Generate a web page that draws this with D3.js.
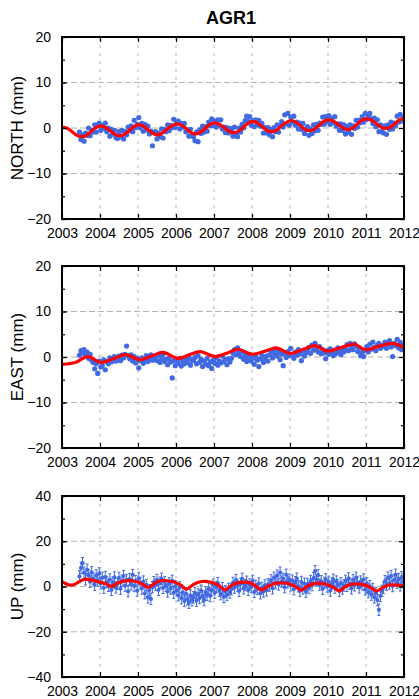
<!DOCTYPE html>
<html>
<head>
<meta charset="utf-8">
<script src="https://cdn.jsdelivr.net/npm/d3@7"></script>
<style>
  body { margin: 0; background: #fff; }
</style>
</head>
<body>
<script>
var title = "AGR1";
var yearTicks = [2003, 2004, 2005, 2006, 2007, 2008, 2009, 2010, 2011, 2012];
var northTicks = [-20, -10, 0, 10, 20];
var eastTicks = [-20, -10, 0, 10, 20];
var upTicks = [-40, -20, 0, 20, 40];

// observations: one value every obsStep years from obsStart (mm)
var obsStart = 2003.46;
var obsStep = 0.04;
var northObs = [
  -0.9, -2.5, -1.6, -2.9, -1.1, -1.6, 0.0, -1.7, -0.5, -0.9, 0.7, -0.9, 0.7, 1.1, -0.5, 0.6, -0.1, 1.1, -0.8, 0.0, -1.8, -0.3, -1.3, -0.5, -2.1,
  -2.3, -0.8, -1.9, -0.5, -2.4, -0.8, -1.5, 0.2, -0.6, 0.5, -0.8, 1.7, 0.1, 0.8, 2.3, 0.0, 1.0, -0.7, 0.8, -0.4, 0.4, -1.3, -0.7, -3.9, -1.0,
  -0.8, -2.4, -1.2, -1.9, -0.2, -2.2, -0.3, -0.8, 0.7, -0.6, 0.6, 0.1, 1.9, 0.1, 1.2, 1.5, -0.2, 1.0, 0.2, 1.0, -0.8, -0.4, -1.8, -0.3, -1.6,
  -1.9, -2.8, -0.9, -3.0, -0.4, -1.2, 0.4, -0.9, 0.3, -0.7, 1.3, 0.5, 2.0, 0.5, 1.5, 0.2, 1.8, 0.6, 1.8, -0.2, 0.2, -1.0, 0.1, -1.1, -0.1,
  -0.3, -1.8, 0.2, -1.3, -1.9, 0.0, -0.9, 0.8, 0.0, 1.6, 2.6, 1.4, 2.5, 0.6, 1.6, 0.3, 1.8, 0.7, 1.7, 0.4, 1.0, -1.1, 0.1, -1.1, 0.1,
  -1.5, -0.3, -1.9, 0.1, -0.8, 0.7, -0.9, 0.4, 1.4, 0.2, 2.9, 0.9, 3.2, 0.6, 2.4, 1.3, 2.6, 0.6, 1.3, -0.2, 1.1, -0.3, 1.0, -1.2, -0.2,
  0.3, -1.6, -0.2, -1.2, 0.7, -0.6, 0.8, -0.5, 1.1, 0.8, 2.4, 0.8, 2.5, 1.4, 2.7, 0.8, 2.2, 1.2, 2.5, 0.4, 0.9, -0.5, 0.9, -0.5, 0.7,
  -1.3, 0.3, -0.9, 0.7, -1.4, 0.5, -0.1, 1.7, 0.2, 1.7, 1.2, 2.5, 1.3, 3.2, 1.9, 2.7, 3.2, 2.0, 1.0, 2.2, 0.3, 1.8, -0.8, 0.7, -0.8,
  -1.1, 0.5, -1.4, 0.7, -0.3, 1.3, -0.2, 1.1, 0.5, 2.6, 1.3, 3.0, 1.5, 2.5
];
var eastObs = [
  0.4, 1.4, 0.9, 1.6, 0.2, 1.1, -0.3, 0.6, -0.7, -1.2, -2.6, -1.5, -3.6, -0.9, -2.2, -1.9, -0.6, -2.8, -1.0, -1.5, -0.2, -1.1, -0.4, 0.1, -0.9,
  -0.5, 0.2, -0.8, 0.4, -0.2, 0.6, 2.4, 0.3, -0.4, 0.5, -0.9, 0.1, -1.3, -0.3, -2.4, -0.8, -0.2, -1.4, -0.6, 0.3, -1.0, -0.2, 0.5, -0.7, 0.2,
  0.1, -0.8, 0.4, -1.2, -0.3, 0.6, -1.0, -0.5, -1.7, -0.2, -1.1, -4.6, -0.8, -1.9, -0.6, -1.4, -0.3, -2.0, -0.9, -1.5, -0.4, -1.2, -0.2, -1.8, -0.7,
  -0.8, -0.1, -1.5, 0.3, -1.2, -0.5, -2.1, -0.9, -1.6, -0.3, -1.9, -1.1, -2.5, -0.7, -1.4, -0.2, -1.8, -0.9, -1.3, 0.2, -1.0, -0.5, -1.7, -0.4, -1.1,
  -0.3, 0.8, 1.6, 0.5, 2.0, 0.9, 0.1, 1.2, -0.5, 0.4, -1.0, -0.2, 0.6, -0.9, -0.3, -1.6, 0.1, -0.7, -2.1, -0.4, 0.3, -1.2, -0.6, 0.2, -0.9,
  0.5, 1.3, -0.2, 0.8, 1.7, 0.2, 1.0, -0.6, 0.6, -1.9, 0.9, -0.1, 1.2, 0.3, 1.9, 0.5, -0.3, 1.1, 0.4, 1.6, 0.7, -0.8, 1.3, 0.2, 0.9,
  1.2, 2.1, 0.8, 2.6, 1.5, 3.0, 1.9, 1.1, 2.3, 0.7, 1.6, 0.9, -0.4, 1.4, 0.6, 1.8, 1.0, 0.3, 1.5, 0.8, 2.0, 1.2, 0.5, 1.7, 1.1,
  1.8, 2.7, 1.4, 3.0, 2.2, 1.6, 2.9, 2.4, 1.2, 2.0, 0.3, 1.0, 0.1, 1.5, 2.3, 1.1, 2.8, 1.7, 3.3, 2.1, 1.4, 2.6, 3.0, 1.9, 2.5,
  2.4, 3.3, 1.9, 2.8, 3.6, 2.2, 0.1, 3.0, 2.5, 3.9, 2.0, 3.2, 1.6, 2.7
];
var upObs = [
  4.5, 8.2, 10.3, 6.1, 3.2, 7.4, 5.0, 2.1, 6.3, 3.5, 0.8, 4.9, 2.6, 5.8, 1.4, 3.9, -0.6, 4.2, 2.0, 0.3, 3.1, -1.5, 1.8, 4.0, -0.4,
  1.2, 3.8, -1.0, 2.5, 4.6, 0.4, 2.9, -2.1, 3.3, 1.0, 5.1, 0.2, 2.4, -1.8, 3.6, 1.5, -0.9, 2.2, -3.0, 0.7, -4.8, -1.6, -5.5, -0.3, 1.9,
  0.8, 2.9, -1.5, 1.7, 3.4, -0.6, 2.0, 0.3, -2.2, 1.4, -0.9, 2.5, -2.8, 0.1, -1.7, -3.9, -0.4, -5.2, -2.6, -6.4, -3.1, -5.7, -7.2, -4.0, -6.1,
  -4.8, -2.9, -6.3, -3.5, -5.1, -1.8, -4.4, -6.0, -2.5, -3.7, -0.9, -4.2, -1.6, 0.8, -2.8, -0.2, 1.5, -1.9, -3.4, -0.7, -4.6, -2.1, -3.8, -1.0, -2.7,
  -1.2, 1.6, -0.5, 2.8, 0.3, -2.0, 1.1, 3.4, -0.8, 0.6, 2.1, -1.5, 0.9, -0.2, 2.5, -2.4, 0.2, -1.1, 1.3, -3.0, -0.6, -2.2, 0.5, -1.7, 1.0,
  0.4, 2.7, -0.8, 3.9, 1.5, 4.8, 0.9, 6.1, 2.2, 3.4, -0.3, 5.2, 1.8, 3.0, 0.5, 2.6, -1.2, 1.9, 3.5, 0.1, -1.9, 2.0, -0.9, 1.2, -2.3,
  1.1, -0.7, 2.4, 0.6, 3.7, 6.8, 2.9, 5.0, 0.8, 2.3, -1.0, 1.6, 3.2, 0.0, 2.1, -1.8, 1.4, 3.0, -0.5, 2.2, 0.7, -2.0, 1.5, -0.9, 0.4,
  2.5, 0.3, 3.6, 1.2, -0.8, 2.8, 0.5, 3.9, 1.7, -0.4, 2.2, 0.9, 3.1, -1.3, 1.4, -2.5, 0.2, -3.6, -1.1, -4.8, -2.9, -6.0, -10.3, -4.2, -1.9,
  -0.6, 2.4, 0.8, 3.9, 1.3, 4.6, 0.2, 2.9, 5.2, 1.7, 3.3, 0.5, 4.1, 2.0
];
var upSigma = 2.5;

// fitted models (red curves)
var northModelStart = 2003;
var northModelStep = 0.125;
var northModel = [
  0.2, 0.0, -0.7, -1.5, -1.9, -1.7, -0.9, 0.0,
  0.4, 0.2, -0.5, -1.3, -1.7, -1.5, -0.7, 0.2,
  0.7, 0.5, -0.3, -1.1, -1.5, -1.2, -0.4, 0.4,
  0.9, 0.7, 0.0, -0.9, -1.3, -1.0, -0.2, 0.7,
  1.1, 0.9, 0.2, -0.6, -1.0, -0.8, 0.0, 0.9,
  1.4, 1.2, 0.4, -0.4, -0.8, -0.6, 0.3, 1.1,
  1.6, 1.4, 0.7, -0.2, -0.6, -0.3, 0.5, 1.4,
  1.8, 1.6, 0.9, 0.1, -0.3, -0.1, 0.7, 1.6,
  2.0, 1.8, 1.1, 0.3, -0.1, 0.1, 0.9, 1.8,
  2.1
];
var eastModel = [
  [2003.0, -1.6], [2003.35, -1.2], [2003.68, 0.1], [2004.02, -1.2], [2004.35, -0.4], [2004.68, 0.5],
  [2005.05, -0.6], [2005.35, 0.2], [2005.66, 1.0], [2006.05, -0.3], [2006.35, 0.5], [2006.63, 1.2],
  [2007.03, 0.1], [2007.35, 0.9], [2007.63, 1.7], [2008.0, 0.6], [2008.35, 1.3], [2008.64, 2.0],
  [2009.0, 0.8], [2009.35, 1.7], [2009.66, 2.5], [2009.98, 1.3], [2010.35, 2.1], [2010.7, 2.8],
  [2010.98, 1.6], [2011.35, 2.4], [2011.68, 3.0], [2012.0, 2.1]
];
var upModel = [
  [2003.0, 2.2], [2003.25, 0.6], [2003.6, 3.2], [2003.95, 2.1], [2004.15, 1.2], [2004.3, 0.0],
  [2004.45, 1.4], [2004.66, 2.5], [2004.95, 2.2], [2005.12, 1.0], [2005.27, -0.4], [2005.42, 1.2],
  [2005.58, 2.5], [2005.95, 2.0], [2006.13, 0.6], [2006.28, -1.2], [2006.45, 0.8], [2006.67, 2.2],
  [2006.95, 1.8], [2007.13, 0.4], [2007.29, -1.5], [2007.46, 0.5], [2007.68, 1.8], [2007.95, 1.6],
  [2008.1, 0.2], [2008.25, -1.5], [2008.43, 0.2], [2008.64, 1.5], [2008.95, 1.3], [2009.14, 0.0],
  [2009.3, -1.6], [2009.45, 0.0], [2009.62, 1.3], [2009.95, 1.0], [2010.14, -0.4], [2010.3, -1.9],
  [2010.45, -0.2], [2010.62, 1.0], [2010.95, 0.7], [2011.13, -0.6], [2011.28, -2.0], [2011.45, -0.4],
  [2011.63, 0.7], [2011.97, 0.3]
];

var outerWidth = 419;
var outerHeight = 699;
var plotLeft = 62;
var plotRight = 404;
var blue = "#4169e1";
var gridColor = "#b5b5b5";
var font = "Arial, 'Liberation Sans', sans-serif";

var svg = d3
  .select("body")
  .append("svg")
  .attr("width", outerWidth)
  .attr("height", outerHeight);

var xScale = d3
  .scaleLinear()
  .domain([yearTicks[0], yearTicks[yearTicks.length - 1]])
  .range([plotLeft, plotRight]);

var toPoints = function (values) {
  return values.map((v, i) => ({ t: obsStart + i * obsStep, v: v }));
};

var panels = [
  {
    label: "NORTH (mm)", top: 37, bottom: 219, ticks: northTicks,
    obs: toPoints(northObs),
    model: northModel.map((v, i) => [northModelStart + i * northModelStep, v]),
    errors: false
  },
  {
    label: "EAST (mm)", top: 266, bottom: 448, ticks: eastTicks,
    obs: toPoints(eastObs), model: eastModel, errors: false
  },
  {
    label: "UP (mm)", top: 496, bottom: 677, ticks: upTicks,
    obs: toPoints(upObs), model: upModel, errors: true
  }
];

svg.append("text")
  .attr("x", (plotLeft + plotRight) / 2 - 2)
  .attr("y", 24)
  .attr("text-anchor", "middle")
  .attr("font-family", font)
  .attr("font-weight", "bold")
  .attr("font-size", 18)
  .text(title);

panels.forEach(function (p, pi) {
  var yScale = d3
    .scaleLinear()
    .domain([p.ticks[0], p.ticks[p.ticks.length - 1]])
    .range([p.bottom, p.top]);
  var g = svg.append("g");

  g.append("clipPath")
    .attr("id", "clip" + pi)
    .append("rect")
    .attr("x", plotLeft)
    .attr("y", p.top)
    .attr("width", plotRight - plotLeft)
    .attr("height", p.bottom - p.top);

  // grid lines
  g.selectAll(".hgrid")
    .data(p.ticks.slice(1, -1))
    .enter()
    .append("line")
    .attr("x1", plotLeft)
    .attr("x2", plotRight)
    .attr("y1", (d) => yScale(d))
    .attr("y2", (d) => yScale(d))
    .attr("stroke", gridColor)
    .attr("stroke-width", 1)
    .attr("stroke-dasharray", "6,3");
  g.selectAll(".vgrid")
    .data(yearTicks.slice(1, -1))
    .enter()
    .append("line")
    .attr("x1", (d) => xScale(d))
    .attr("x2", (d) => xScale(d))
    .attr("y1", p.top)
    .attr("y2", p.bottom)
    .attr("stroke", gridColor)
    .attr("stroke-width", 1)
    .attr("stroke-dasharray", "3,5");

  var data = g.append("g").attr("clip-path", "url(#clip" + pi + ")");

  if (p.errors) {
    var bars = data.selectAll(".err")
      .data(p.obs)
      .enter()
      .append("g")
      .attr("stroke", blue)
      .attr("stroke-width", 1);
    bars.append("line")
      .attr("x1", (d) => xScale(d.t))
      .attr("x2", (d) => xScale(d.t))
      .attr("y1", (d) => yScale(d.v - upSigma))
      .attr("y2", (d) => yScale(d.v + upSigma));
    [-1, 1].forEach(function (s) {
      bars.append("line")
        .attr("x1", (d) => xScale(d.t) - 1.5)
        .attr("x2", (d) => xScale(d.t) + 1.5)
        .attr("y1", (d) => yScale(d.v + s * upSigma))
        .attr("y2", (d) => yScale(d.v + s * upSigma));
    });
  }

  data.selectAll(".obs")
    .data(p.obs)
    .enter()
    .append("circle")
    .attr("cx", (d) => xScale(d.t))
    .attr("cy", (d) => yScale(d.v))
    .attr("r", p.errors ? 2.1 : 2.6)
    .attr("fill", blue);

  var line = d3
    .line()
    .x((d) => xScale(d[0]))
    .y((d) => yScale(d[1]))
    .curve(d3.curveCatmullRom);

  data.append("path")
    .attr("d", line(p.model))
    .attr("fill", "none")
    .attr("stroke", "#ff0000")
    .attr("stroke-width", 3.2)
    .attr("stroke-linejoin", "round");

  // axes with inward ticks
  var minor = d3.ticks(p.ticks[0], p.ticks[p.ticks.length - 1], 8);
  var styleAxis = function (sel) {
    sel.select(".domain").remove();
    sel.selectAll("line").attr("stroke", "#000").attr("stroke-width", 1.2);
    sel.selectAll("text").attr("font-family", font).attr("font-size", 14).attr("fill", "#000");
  };

  g.append("g")
    .attr("transform", "translate(" + plotLeft + ",0)")
    .call(d3.axisLeft(yScale).tickValues(minor).tickSize(-3).tickFormat(""))
    .call(styleAxis);
  g.append("g")
    .attr("transform", "translate(" + plotRight + ",0)")
    .call(d3.axisRight(yScale).tickValues(minor).tickSize(-3).tickFormat(""))
    .call(styleAxis);
  g.append("g")
    .attr("transform", "translate(" + plotLeft + ",0)")
    .call(d3.axisLeft(yScale).tickValues(p.ticks).tickSize(-5).tickPadding(11).tickFormat(d3.format("d")))
    .call(styleAxis);
  g.append("g")
    .attr("transform", "translate(" + plotRight + ",0)")
    .call(d3.axisRight(yScale).tickValues(p.ticks).tickSize(-5).tickFormat(""))
    .call(styleAxis);
  g.append("g")
    .attr("transform", "translate(0," + p.bottom + ")")
    .call(d3.axisBottom(xScale).tickValues(yearTicks).tickSize(-5).tickPadding(9).tickFormat(d3.format("d")))
    .call(styleAxis);
  g.append("g")
    .attr("transform", "translate(0," + p.top + ")")
    .call(d3.axisTop(xScale).tickValues(yearTicks).tickSize(-5).tickFormat(""))
    .call(styleAxis);

  g.append("rect")
    .attr("x", plotLeft)
    .attr("y", p.top)
    .attr("width", plotRight - plotLeft)
    .attr("height", p.bottom - p.top)
    .attr("fill", "none")
    .attr("stroke", "#000")
    .attr("stroke-width", 2);

  // y label
  g.append("text")
    .attr("transform", "translate(23," + (p.top + p.bottom) / 2 + ") rotate(-90)")
    .attr("text-anchor", "middle")
    .attr("font-family", font)
    .attr("font-size", 17)
    .text(p.label);
});
</script>
</body>
</html>
